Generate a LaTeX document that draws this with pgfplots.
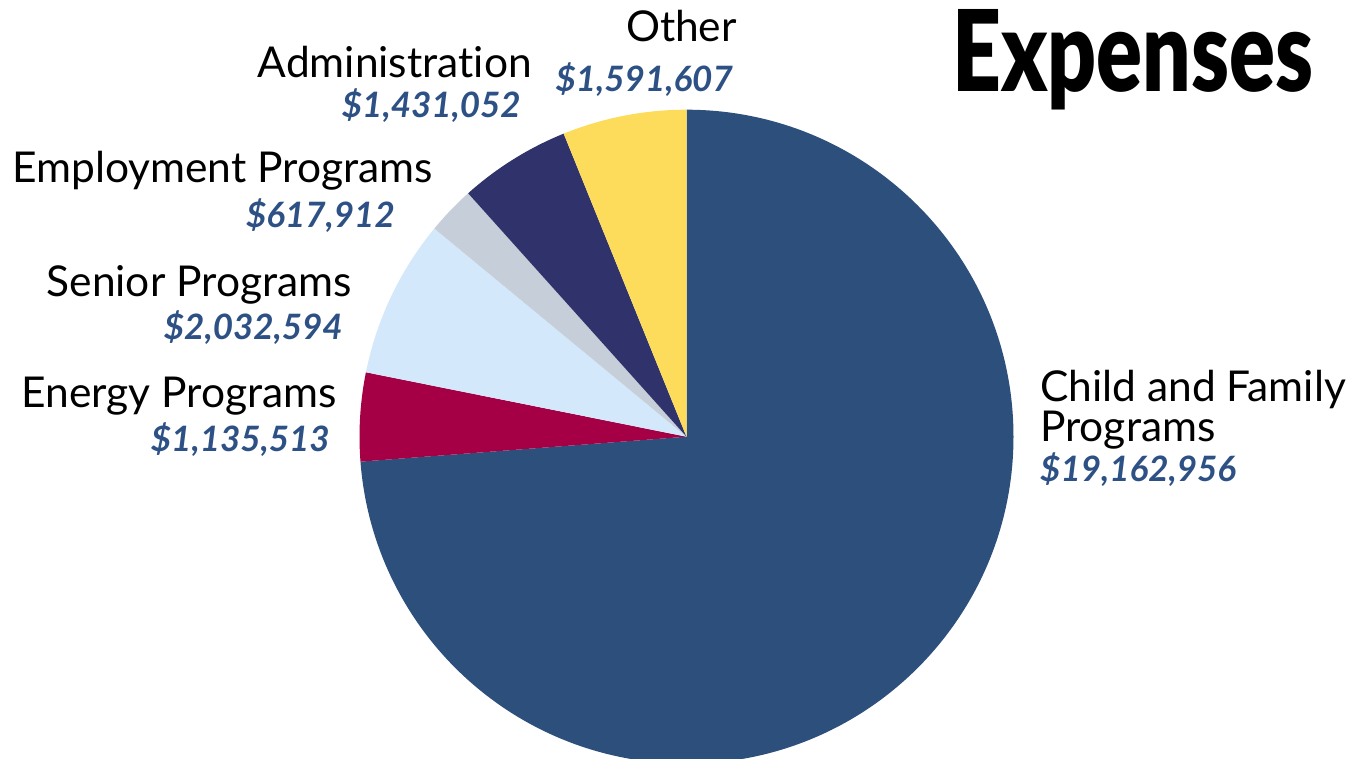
\documentclass[border=0pt]{standalone}
\usepackage{pgfplots}
\usepackage{pgfplotstable}
\pgfplotsset{compat=1.18}
\usepackage{fontspec}
\setmainfont{Lato}[Ligatures=NoCommon]
\newfontfamily\titlefont{Lato Black}

\definecolor{cChild}{HTML}{2D4F7C}
\definecolor{cEnergy}{HTML}{A50045}
\definecolor{cSenior}{HTML}{D4E8FB}
\definecolor{cEmploy}{HTML}{C6CFD9}
\definecolor{cAdmin}{HTML}{30336B}
\definecolor{cOther}{HTML}{FDDC5C}
\definecolor{valblue}{HTML}{2D5185}

% slices clockwise from 12 o'clock
\pgfplotstableread{
name value col
Child 19162956 cChild
Energy 1135513 cEnergy
Senior 2032594 cSenior
Employment 617912 cEmploy
Administration 1431052 cAdmin
Other 1591607 cOther
}\expenses

\newcommand\namefont{\fontsize{42.5bp}{45bp}\selectfont}
\newcommand\valfont{\fontsize{35bp}{40bp}\selectfont\bfseries\itshape\color{valblue}}

\begin{document}
\begin{tikzpicture}
\xdef\total{0}
\foreach \i in {0,...,5}{
  \pgfplotstablegetelem{\i}{value}\of\expenses
  \xdef\total{\fpeval{\total+\pgfplotsretval}}
}
\xdef\cum{0}
\foreach \i in {0,...,5}{
  \pgfplotstablegetelem{\i}{value}\of\expenses
  \let\v\pgfplotsretval
  \expandafter\xdef\csname sa\i\endcsname{\fpeval{90-360*\cum/\total}}
  \xdef\cum{\fpeval{\cum+\v}}
  \expandafter\xdef\csname ea\i\endcsname{\fpeval{90-360*\cum/\total}}
  \pgfplotstablegetelem{\i}{col}\of\expenses
  \expandafter\xdef\csname co\i\endcsname{\pgfplotsretval}
}
\begin{axis}[
  scale only axis,
  width=1368bp, height=759bp,
  xmin=0, xmax=1368, ymin=0, ymax=759,
  hide axis, clip=false]
\pgfplotsinvokeforeach{0,...,5}{
  \fill[color=\csname co#1\endcsname]
    (axis cs:686.5,322.3) -- ++(\csname sa#1\endcsname:327bp)
    arc[start angle=\csname sa#1\endcsname, end angle=\csname ea#1\endcsname, radius=327bp]
    -- cycle;
}
% category names
\node[anchor=base east, inner sep=0pt, font=\namefont] at (axis cs:737,717) {Other};
\node[anchor=base east, inner sep=0pt, font=\valfont] at (axis cs:733,667) {\$1,591,607};
\node[anchor=base east, inner sep=0pt, font=\namefont] at (axis cs:532,681) {Administration};
\node[anchor=base east, inner sep=0pt, font=\valfont] at (axis cs:521,641) {\$1,431,052};
\node[anchor=base east, inner sep=0pt, font=\namefont] at (axis cs:433,576) {Employment Programs};
\node[anchor=base east, inner sep=0pt, font=\valfont] at (axis cs:395,531) {\$617,912};
\node[anchor=base east, inner sep=0pt, font=\namefont] at (axis cs:352,462) {Senior Programs};
\node[anchor=base east, inner sep=0pt, font=\valfont] at (axis cs:343,419) {\$2,032,594};
\node[anchor=base east, inner sep=0pt, font=\namefont] at (axis cs:337,351) {Energy Programs};
\node[anchor=base east, inner sep=0pt, font=\valfont] at (axis cs:330,307) {\$1,135,513};
\node[anchor=base west, inner sep=0pt, font=\namefont] at (axis cs:1040,357) {Child and Family};
\node[anchor=base west, inner sep=0pt, font=\namefont] at (axis cs:1040,317) {Programs};
\node[anchor=base west, inner sep=0pt, font=\valfont] at (axis cs:1040,277) {\$19,162,956};
% title
\node[anchor=base west, inner sep=0pt] at (axis cs:952,667) {\resizebox{361bp}{82bp}{\titlefont Expenses}};
\end{axis}
\pgfresetboundingbox
\useasboundingbox (0,0) rectangle (1368bp,759bp);
\end{tikzpicture}
\end{document}
